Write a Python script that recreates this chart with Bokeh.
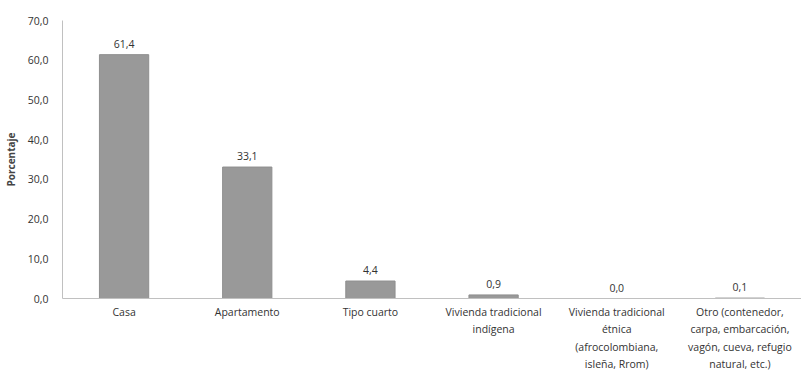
from bokeh.plotting import figure
from bokeh.models import ColumnDataSource, LabelSet, FixedTicker, CustomJSTickFormatter, Range1d, FactorRange
from bokeh.core.properties import value
from bokeh.embed import file_html
from bokeh.resources import INLINE

categories = [
    "Casa",
    "Apartamento",
    "Tipo cuarto",
    "Vivienda tradicional\nindígena",
    "Vivienda tradicional\nétnica\n(afrocolombiana,\nisleña, Rrom)",
    "Otro (contenedor,\ncarpa, embarcación,\nvagón, cueva, refugio\nnatural, etc.)",
]
values = [61.4, 33.1, 4.4, 0.9, 0.0, 0.1]
labels = ["61,4", "33,1", "4,4", "0,9", "0,0", "0,1"]
y_ticks = [0, 10, 20, 30, 40, 50, 60, 70]

FONT = "Open Sans"

src = ColumnDataSource(dict(cat=categories, val=values, lab=labels))

p = figure(width=801, height=374, x_range=FactorRange(*categories, range_padding=0),
           y_range=Range1d(0, 70), output_backend="svg", toolbar_location=None,
           min_border_left=62, min_border_right=0, min_border_top=20, min_border_bottom=0)
p.vbar(x="cat", top="val", width=0.4, source=src, fill_color="#999999", line_color="#8f8f8f", line_width=1)

lbl = LabelSet(x="cat", y="val", text="lab", source=src, text_align="center", text_baseline="bottom",
               y_offset=7, text_font=value(FONT), text_font_size="10.5px", text_color="#333333")
p.add_layout(lbl)

p.outline_line_color = None
p.grid.grid_line_color = None
p.yaxis.ticker = FixedTicker(ticks=y_ticks)
p.yaxis.formatter = CustomJSTickFormatter(code="return tick.toFixed(1).replace('.', ',');")
p.yaxis.axis_label = "Porcentaje"
p.yaxis.axis_label_text_font = FONT
p.yaxis.axis_label_text_font_style = "bold"
p.yaxis.axis_label_text_font_size = "10px"
p.yaxis.axis_label_standoff = 7
for ax in (p.xaxis, p.yaxis):
    ax.major_tick_line_color = None
    ax.minor_tick_line_color = None
    ax.axis_line_color = "#c0c0c0"
    ax.major_label_text_font = FONT
    ax.major_label_text_font_size = "10.5px"
    ax.major_label_text_color = "#333333"
p.yaxis.major_label_standoff = 8
p.xaxis.major_label_standoff = 0
p.xaxis.major_label_text_line_height = 1.25

open("out.html", "w").write(file_html(p, INLINE))
